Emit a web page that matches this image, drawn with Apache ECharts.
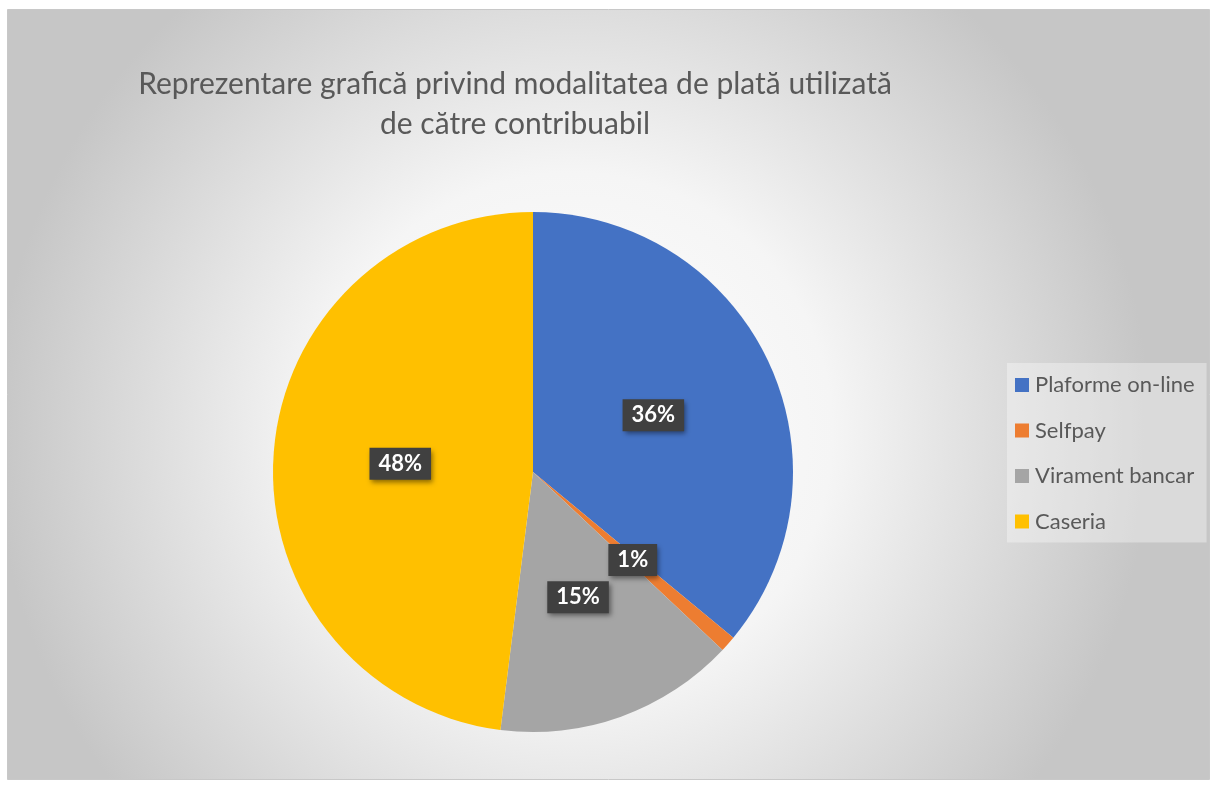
<!DOCTYPE html>
<html lang="ro">
<head>
<meta charset="UTF-8">
<title>Modalitate de plată</title>
<script src="https://cdn.jsdelivr.net/npm/echarts@6/dist/echarts.min.js"></script>
<style>
  * { margin: 0; padding: 0 }
  html, body { height: 100%; background: #fff; }
</style>
</head>
<body>
<div id="main" style="width:1213px;height:788px"></div>
<script>
  var categories = ['Plaforme on-line', 'Selfpay', 'Virament bancar', 'Caseria'];
  var values = [36, 1, 15, 48];
  var colors = ['#4472C4', '#ED7D31', '#A5A5A5', '#FFC000'];

  var chart = echarts.init(document.getElementById('main'));
  chart.setOption({
    backgroundColor: '#fff',
    graphic: [{
      type: 'rect',
      z: -10,
      shape: { x: 7.5, y: 9.5, width: 1202, height: 770 },
      style: {
        fill: new echarts.graphic.RadialGradient(0.47, 0.55, 0.75, [
          { offset: 0, color: '#ffffff' },
          { offset: 0.45, color: '#f5f5f5' },
          { offset: 1, color: '#c6c6c6' }
        ]),
        stroke: '#c8c8c8',
        lineWidth: 1
      }
    }],
    title: {
      text: 'Reprezentare grafică privind modalitatea de plată utilizată\nde către contribuabil',
      left: 510,
      top: 59,
      textAlign: 'center',
      textStyle: {
        fontFamily: 'Lato',
        fontWeight: 'normal',
        fontSize: 30,
        lineHeight: 40,
        color: '#595959'
      }
    },
    legend: {
      orient: 'vertical',
      left: 1007,
      top: 363,
      width: 203,
      padding: [11, 12, 10, 8],
      backgroundColor: 'rgba(255,255,255,0.35)',
      itemWidth: 14,
      itemHeight: 14,
      itemGap: 23.5,
      icon: 'rect',
      data: categories,
      textStyle: {
        fontFamily: 'Lato',
        fontSize: 22,
        color: '#595959',
        padding: [0, 0, 0, 1]
      }
    },
    series: [{
      type: 'pie',
      center: [533, 472],
      radius: [0, 260],
      startAngle: 90,
      clockwise: true,
      avoidLabelOverlap: false,
      color: colors,
      data: categories.map(function (c, i) {
        return { name: c, value: values[i] };
      }),
      label: {
        show: true,
        position: 'inside',
        formatter: '{d}%',
        fontFamily: 'Lato',
        fontWeight: 'bold',
        fontSize: 22,
        color: '#ffffff',
        backgroundColor: '#404040',
        padding: [6, 9, 4, 9],
        shadowColor: 'rgba(0,0,0,0.45)',
        shadowBlur: 5,
        shadowOffsetX: 2,
        shadowOffsetY: 3
      },
      labelLine: { show: false },
      emphasis: { scale: false }
    }]
  });
</script>
</body>
</html>
